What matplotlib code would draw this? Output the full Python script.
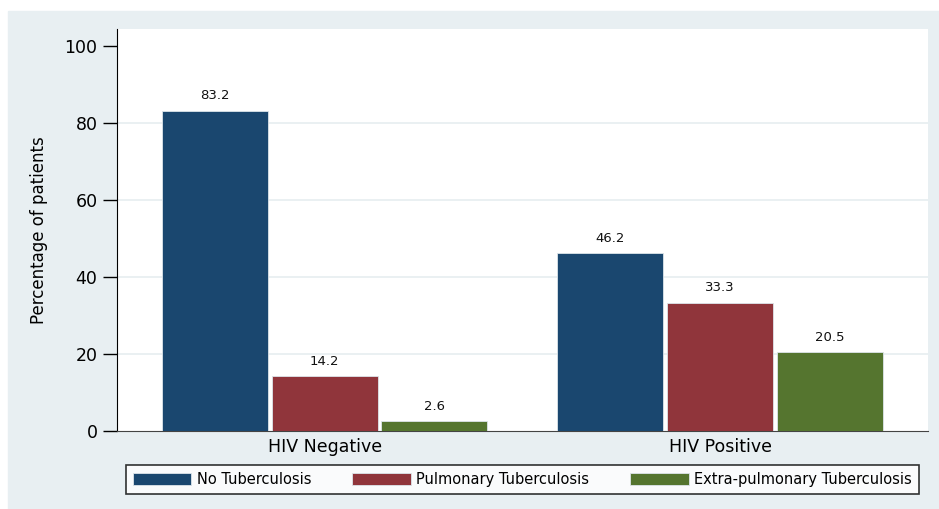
import numpy as np
import matplotlib.pyplot as plt
from matplotlib.patches import Rectangle

groups = ["HIV Negative", "HIV Positive"]
series = ["No Tuberculosis", "Pulmonary Tuberculosis", "Extra-pulmonary Tuberculosis"]
no_tb = [83.2, 46.2]
pulm_tb = [14.2, 33.3]
extra_tb = [2.6, 20.5]
colors = ["#1A476F", "#90353B", "#55752F"]

W, H = 939, 509
fig = plt.figure(figsize=(W / 100, H / 100), dpi=100)
fig.patch.set_facecolor("white")
# light outer panel like Stata's s2color scheme
fig.add_artist(Rectangle((8 / W, 0), 1 - 8 / W, 1 - 11 / H,
                         transform=fig.transFigure, color="#E8EFF2", zorder=-10))

ax = fig.add_axes([117 / W, 1 - 431 / H, (928 - 117) / W, (431 - 29) / H])
ax.set_facecolor("white")

x = np.arange(len(groups))
width = 0.268
step = 0.277
for i, (vals, lab) in enumerate(zip([no_tb, pulm_tb, extra_tb], series)):
    pos = x + (i - 1) * step
    bars = ax.bar(pos, vals, width, color=colors[i], label=lab,
                  edgecolor="#DDE5EA", linewidth=0.6, zorder=3)
    for b, v in zip(bars, vals):
        ax.text(b.get_x() + b.get_width() / 2, v + 2.2, f"{v:.1f}",
                ha="center", va="bottom", fontsize=9.5, color="#111111")

ax.set_xlim(-0.525, 1.526)
ax.set_ylim(0, 104.4)
ax.set_yticks([0, 20, 40, 60, 80, 100])
ax.tick_params(axis="y", labelsize=12.5, length=10, width=1, pad=4)
ax.set_xticks(x)
ax.set_xticklabels(groups, fontsize=12.5)
ax.tick_params(axis="x", length=0, pad=5)
for g in [20, 40, 60, 80]:
    ax.axhline(g, color="#E6EEF0", linewidth=1.2, zorder=1)

ax.spines["top"].set_visible(False)
ax.spines["right"].set_visible(False)
ax.spines["left"].set_color("black")
ax.spines["bottom"].set_color("#444444")
ax.set_ylabel("Percentage of patients", fontsize=12, labelpad=12)

leg = fig.legend(loc="center", bbox_to_anchor=((125 + 920) / 2 / W, 1 - 479.5 / H),
                 ncol=3, fontsize=10.5, frameon=True, fancybox=False,
                 handlelength=4.0, handleheight=0.9, handletextpad=0.4,
                 columnspacing=2.8, borderpad=0.45, edgecolor="black")
leg.get_frame().set_linewidth(1.2)
leg.get_frame().set_facecolor("white")

fig.savefig("out.png", dpi=100, facecolor=fig.get_facecolor())
